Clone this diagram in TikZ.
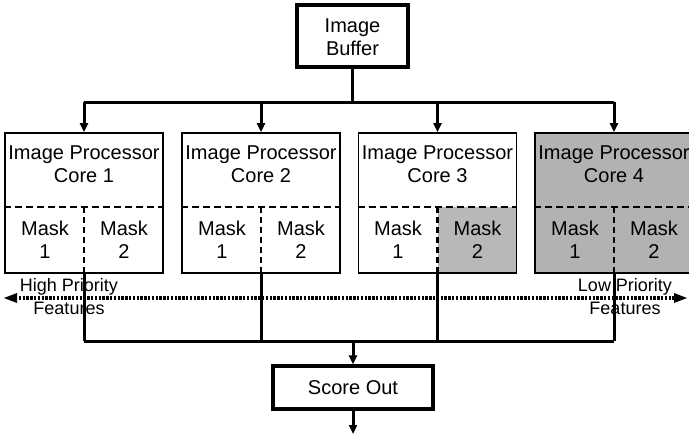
\documentclass[tikz,border=0pt]{standalone}
\usepackage{fontspec}
\setmainfont{Liberation Sans}
\usetikzlibrary{arrows.meta}
\definecolor{grayA}{RGB}{178,178,178}
\definecolor{grayB}{RGB}{184,184,184}
\begin{document}
\begin{tikzpicture}[x=1pt,y=-1pt,
  txt/.style={font=\fontsize{20}{23}\selectfont, align=center, inner sep=0pt},
  lbl/.style={font=\fontsize{18}{23}\selectfont, align=center, inner sep=0pt},
  thickbox/.style={draw, line width=3.4pt, inner sep=0pt},
  corebox/.style={draw, line width=1.7pt, minimum width=158pt, minimum height=140pt, inner sep=0pt},
  conn/.style={line width=3pt},
  tip/.style={-{Triangle[length=9pt,width=8pt]}},
  divh/.style={dash pattern=on 7pt off 4pt, line width=2.4pt},
  divv/.style={dash pattern=on 6pt off 4pt, line width=2.4pt},
  dots/.style={line width=3.6pt, dash pattern=on 2.4pt off 1.4pt}
]
\useasboundingbox (0,0) rectangle (689,437);
\clip (0,0) rectangle (689,437);
\fill[white] (0,0) rectangle (689,437);

% Image Buffer
\node[thickbox, minimum width=111pt, minimum height=62pt] (buf) at (352.5,36) {};
\node[txt] (buft) at (352.5,37) {Image\\Buffer};

% gray fills
\fill[grayA] (535,133) rectangle (693,273);
\fill[grayB] (438,207) rectangle (517,273);

% cores
\node[corebox] (c1) at (84,203) {};
\node[corebox] (c2) at (261,203) {};
\node[corebox] (c3) at (437.5,203) {};
\node[corebox] (c4) at (614,203) {};

% dividers
\foreach \c in {c1,c2,c3,c4}{
  \draw[divh] (\c.west |- 0,207) -- (\c.east |- 0,207);
  \draw[divv] (\c.center |- 0,207) -- (\c.south);
}

% core texts
\node[txt] (t1) at (84,164) {Image Processor\\Core 1};
\node[txt] (t2) at (261,164) {Image Processor\\Core 2};
\node[txt] (t3) at (437.5,164) {Image Processor\\Core 3};
\node[txt] (t4) at (614,164) {Image Processor\\Core 4};
\node[txt] (m11) at (45,240) {Mask\\1};
\node[txt] (m12) at (124,240) {Mask\\2};
\node[txt] (m21) at (222,240) {Mask\\1};
\node[txt] (m22) at (301,240) {Mask\\2};
\node[txt] (m31) at (398,240) {Mask\\1};
\node[txt] (m32) at (477.5,240) {Mask\\2};
\node[txt] (m41) at (575,240) {Mask\\1};
\node[txt] (m42) at (654,240) {Mask\\2};

% top connectors
\coordinate (bt) at (352.5,102);
\draw[conn] (buf.south) -- (bt);
\draw[conn] (c1.north |- bt) -- (c4.north |- bt);
\foreach \c in {c1,c2,c3,c4}{
  \draw[conn,tip] (\c.north |- bt) -- (\c.north);
}

% priority labels
\node[lbl] (hp) at (69,297) {High Priority\\Features};
\node[lbl] (lp) at (625,297) {Low Priority\\Features};

% dotted priority axis
\coordinate (pl) at (4,298);
\coordinate (pr) at (687,298);
\draw[dots] (15,298) -- (676,298);
\fill (pl) -- (17,293) -- (17,303) -- cycle;
\fill (pr) -- (674,293) -- (674,303) -- cycle;

% Score Out
\node[thickbox, minimum width=160pt, minimum height=43pt] (so) at (353,387.5) {};
\node[txt] (sot) at (353,387.5) {Score Out};

% bottom connectors
\coordinate (bb) at (353,341);
\foreach \c in {c1,c2,c3,c4}{
  \draw[conn] (\c.south) -- (\c.south |- bb);
}
\draw[conn] (c1.south |- bb) -- (c4.south |- bb);
\draw[conn,tip] (bb) -- (so.north);
\coordinate (out) at (353,434);
\draw[conn,tip] (so.south) -- (out);
\end{tikzpicture}
\end{document}
